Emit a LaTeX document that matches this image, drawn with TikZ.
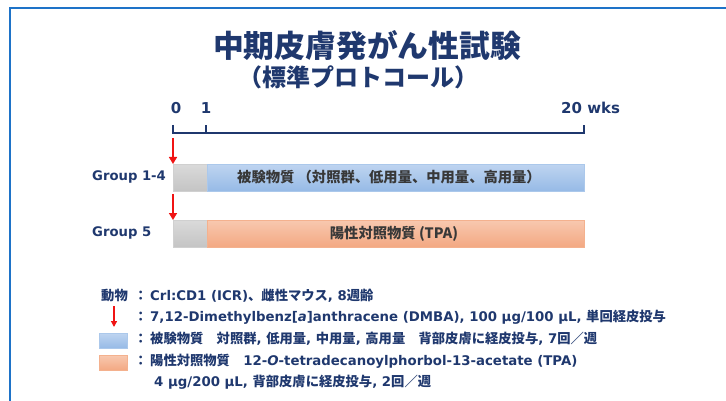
\documentclass[tikz,border=0pt]{standalone}
\usepackage{fontspec}
\setmainfont{DejaVu Sans}
\newfontfamily\cjkfam{Noto Sans CJK JP}
\newcommand{\jp}[1]{{\cjkfam\bfseries #1}}
\definecolor{navy}{RGB}{31,56,110}
\definecolor{frameblue}{RGB}{30,115,200}
\definecolor{arrowred}{RGB}{240,20,20}
\definecolor{bluetop}{RGB}{190,212,240}
\definecolor{bluebot}{RGB}{150,186,230}
\definecolor{orangetop}{RGB}{248,200,175}
\definecolor{orangebot}{RGB}{243,168,130}
\definecolor{graytop}{RGB}{218,218,218}
\definecolor{graybot}{RGB}{196,196,196}
\usetikzlibrary{arrows.meta}
\tikzset{
  navytext/.style={text=navy, font=\bfseries, inner sep=0pt},
  redarrow/.style={draw=arrowred, line width=1.6pt, -{Triangle[length=7pt,width=8pt]}},
  grayseg/.style={top color=graytop, bottom color=graybot, draw=graybot!80!white, line width=0.6pt},
  blueseg/.style={top color=bluetop, bottom color=bluebot, draw=bluebot!80!white, line width=0.6pt},
  orangeseg/.style={top color=orangetop, bottom color=orangebot, draw=orangebot!90!white, line width=0.6pt},
  bartext/.style={text=black!78, font=\cjkfam\bfseries\fontsize{14.3}{16}\selectfont, inner sep=0pt},
  legtext/.style={anchor=west, text=navy, font=\bfseries\fontsize{13.3}{15}\selectfont, inner sep=0pt},
  axislabel/.style={text=navy, font=\bfseries\fontsize{15}{17}\selectfont, inner sep=0pt},
  grouplabel/.style={text=navy, font=\bfseries\fontsize{13.2}{15}\selectfont, inner sep=0pt, anchor=west},
}
\begin{document}
\begin{tikzpicture}[x=1pt,y=-1pt]
\useasboundingbox (0,0) rectangle (726,401);
% frame
\draw[frameblue, line width=2pt] (10,420) -- (10,8) -- (740,8);
% title
\node[text=navy, inner sep=0pt, font=\cjkfam\bfseries\fontsize{30.8}{33}\selectfont] (title) at (367,45.5) {中期皮膚発がん性試験};
\node[text=navy, inner sep=0pt, font=\cjkfam\bfseries\fontsize{24}{26}\selectfont] (subtitle) at (358,77) {（標準プロトコール）};
% axis
\coordinate (t0) at (173,133);
\coordinate (t1) at (206,133);
\coordinate (t20) at (584,133);
\draw[navy, line width=1.3pt] (173,125) -- (t0) -- (t20) -- (584,125);
\draw[navy, line width=1.3pt] (t1) -- (206,125);
\node[axislabel] (l0) at (176,108) {0};
\node[axislabel] (l1) at (206,108) {1};
\node[axislabel, anchor=west] (l20) at (561,108) {20 wks};
% group 1-4
\node[grayseg, minimum width=34pt, minimum height=27pt, inner sep=0pt, anchor=north west] (g1) at (173,164) {};
\node[blueseg, minimum width=377pt, minimum height=27pt, inner sep=0pt, anchor=north west] (b1) at (207,164) {};
\node[bartext] (b1t) at (389,177.5) {被験物質 （対照群、低用量、中用量、高用量）};
\node[grouplabel] (grp1) at (92,177) {Group 1-4};
\coordinate (a1s) at (173,138);
\draw[redarrow] (a1s) -- (g1.north west);
% group 5
\node[grayseg, minimum width=34pt, minimum height=27pt, inner sep=0pt, anchor=north west] (g5) at (173,220) {};
\node[orangeseg, minimum width=377pt, minimum height=27pt, inner sep=0pt, anchor=north west] (b5) at (207,220) {};
\node[bartext] (b5t) at (394,233.5) {陽性対照物質 (TPA)};
\node[grouplabel] (grp5) at (92,233) {Group 5};
\coordinate (a5s) at (173,194);
\draw[redarrow] (a5s) -- (g5.north west);
% legend
\node[legtext, anchor=east] (leg1k) at (128,296) {\jp{動物}};
\node[legtext] (c1) at (134,296) {\jp{：}};
\node[legtext] (leg1) at (150,296) {Crl:CD1 (ICR)\jp{、雌性マウス}, 8\jp{週齢}};
\coordinate (la1) at (114,306);
\coordinate (la2) at (114,327);
\draw[redarrow, line width=1.3pt, -{Triangle[length=6pt,width=6pt]}] (la1) -- (la2);
\node[legtext] (c2) at (134,317) {\jp{：}};
\node[legtext] (leg2) at (150,317) {7,12-Dimethylbenz[\textit{a}]anthracene (DMBA), 100 μg/100 μL, \jp{単回経皮投与}};
\node[blueseg, minimum width=28pt, minimum height=15pt, inner sep=0pt, anchor=north west] (kb) at (99,333) {};
\node[legtext] (c3) at (134,339) {\jp{：}};
\node[legtext] (leg3) at (150,339) {\jp{被験物質　対照群}, \jp{低用量}, \jp{中用量}, \jp{高用量　背部皮膚に経皮投与}, 7\jp{回／週}};
\node[orangeseg, minimum width=28pt, minimum height=15pt, inner sep=0pt, anchor=north west] (ko) at (99,355) {};
\node[legtext] (c4) at (134,361) {\jp{：}};
\node[legtext] (leg4) at (150,361) {\jp{陽性対照物質}\quad 12-\textit{O}-tetradecanoylphorbol-13-acetate (TPA)};
\node[legtext] (leg5) at (154,382) {4 μg/200 μL, \jp{背部皮膚に経皮投与}, 2\jp{回／週}};
\end{tikzpicture}
\end{document}
